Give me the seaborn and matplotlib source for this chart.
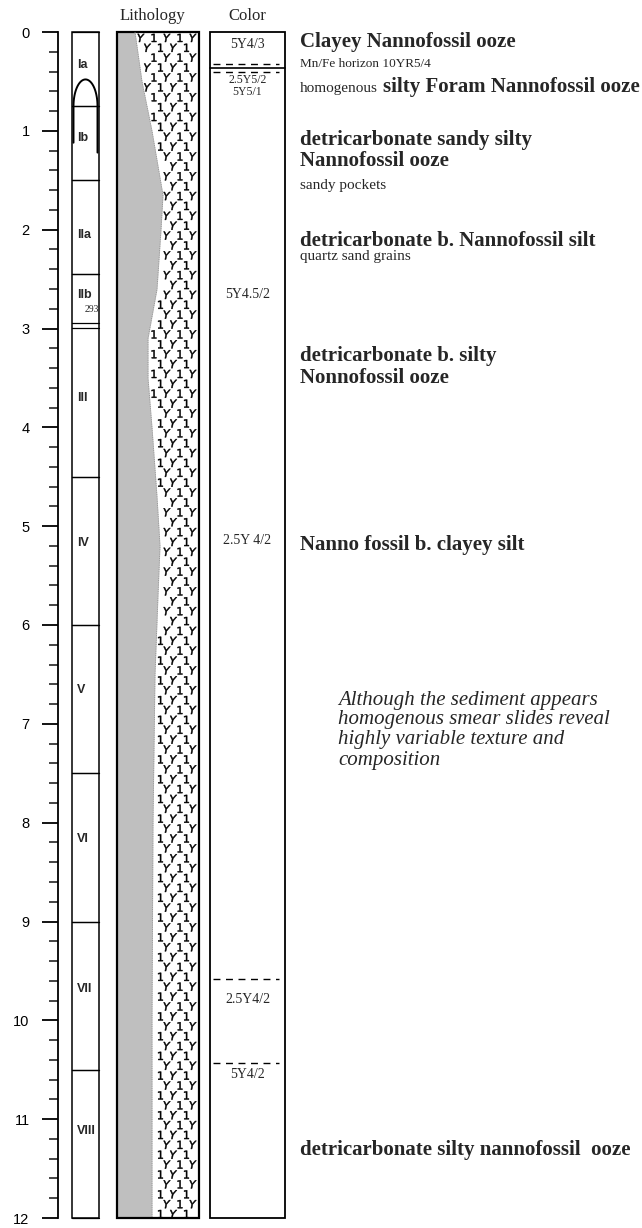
import matplotlib
matplotlib.use('Agg')
import matplotlib.pyplot as plt
import seaborn as sns
import numpy as np
import pandas as pd

section_names  = ['Ia', 'Ib', 'IIa', 'IIb', 'III', 'IV', 'V', 'VI', 'VII', 'VIII']
section_tops   = [0.0, 0.75, 1.5, 2.45, 2.99, 4.5, 6.0, 7.5, 9.0, 10.5]
section_bases  = [0.75, 1.5, 2.45, 2.94, 4.5, 6.0, 7.5, 9.0, 10.5, 12.0]
section_labely = [0.33, 1.07, 2.05, 2.66, 3.7, 5.17, 6.66, 8.17, 9.68, 11.12]

# grey (terrigenous) part of the lithology column: right edge vs depth
litho_depth    = [0.0, 0.5, 1.0, 1.65, 2.0, 2.6, 3.1, 3.5, 4.0, 4.7, 5.2, 5.7, 6.5, 8.0, 10.0, 12.0]
litho_boundary = [135, 142, 152, 163, 161, 157, 148, 148, 152, 157, 160, 158, 155, 153, 152, 152]

color_codes  = ['5Y4/3', '2.5Y5/2', '5Y5/1', '5Y4.5/2', '2.5Y 4/2', '2.5Y4/2', '5Y4/2']
color_depths = [0.13, 0.485, 0.605, 2.66, 5.15, 9.79, 10.55]
color_sizes  = [10, 8.5, 8.5, 10, 10, 10, 10]
color_dashed = [0.32, 0.40, 9.58, 10.43]
color_solid  = [0.365]

desc_depths = [0.10, 1.09, 1.31, 2.11, 3.28, 3.50, 5.19, 11.31]
desc_texts  = ['Clayey Nannofossil ooze',
               'detricarbonate sandy silty',
               'Nannofossil ooze',
               'detricarbonate b. Nannofossil silt',
               'detricarbonate b. silty',
               'Nonnofossil ooze',
               'Nanno fossil b. clayey silt',
               'detricarbonate silty nannofossil  ooze']
note_depths = [0.32, 1.55, 2.27]
note_texts  = ['Mn/Fe horizon 10YR5/4', 'sandy pockets', 'quartz sand grains']
note_sizes  = [9.5, 11, 11]
remark_lines = ['Although the sediment appears',
                'homogenous smear slides reveal',
                'highly variable texture and',
                'composition']
remark_depths = [6.76, 6.96, 7.16, 7.37]

# ---- layout (x in pixel-like units, y in metres) ----
W, H = 642, 1228
px_per_m = (1218 - 32) / 12.0
ytop = -32 / px_per_m
ybot = 12 + (H - 1218) / px_per_m
SEC_L, SEC_R = 72, 99
LIT_L, LIT_R = 117, 199
COL_L, COL_R = 210, 285
TX = 300

sns.set_theme(style='white')
plt.rcParams['font.family'] = ['Liberation Serif', 'DejaVu Serif']

fig = plt.figure(figsize=(W / 100, H / 100), dpi=100)
ax = fig.add_axes([58 / W, 0, 1 - 58 / W, 1])
ax.set_xlim(58, W)
ax.set_ylim(ybot, ytop)

for s in ['top', 'right', 'bottom']:
    ax.spines[s].set_visible(False)
ax.spines['left'].set_bounds(0, 12)
ax.spines['left'].set_linewidth(1.3)
ax.spines['left'].set_color('black')
ax.set_xticks([])
ax.set_yticks(np.arange(0, 13, 1))
ax.set_yticks(np.arange(0, 12.01, 0.2), minor=True)
ax.tick_params(axis='y', which='major', direction='out', length=11.5, width=1.3,
               left=True, labelsize=10.5, pad=9, colors='black')
ax.tick_params(axis='y', which='minor', direction='out', length=6.5, width=1.2, left=True)
for lab in ax.get_yticklabels():
    lab.set_family(['Liberation Sans', 'DejaVu Sans'])

# section column
ax.add_patch(plt.Rectangle((SEC_L, 0), SEC_R - SEC_L, 12, fill=False, lw=1.1, ec='black'))
for name, top, base, ly in zip(section_names, section_tops, section_bases, section_labely):
    ax.plot([SEC_L, SEC_R], [base, base], color='black', lw=0.9)
    ax.plot([SEC_L, SEC_R], [top, top], color='black', lw=0.9)
    ax.text(SEC_L + 5, ly, name, fontsize=9, fontweight='bold', va='center', ha='left',
            family=['Liberation Sans', 'DejaVu Sans'])
ax.text(SEC_L + 13, 2.81, '293', fontsize=7, va='center', ha='left')
# bioturbation arch in Ia/Ib
th = np.linspace(-np.pi / 2, np.pi / 2, 60)
arch_x = np.concatenate([[73.5], 85.5 + 12 * np.sin(th), [97.5]])
arch_y = np.concatenate([[1.12], 0.75 - 0.27 * np.cos(th), [1.22]])
ax.plot(arch_x, arch_y, color='black', lw=1.4)

# lithology column
ax.fill_betweenx(litho_depth, LIT_L, litho_boundary, color='#bfbfbf', lw=0)
lith = pd.DataFrame({'depth': litho_depth, 'edge': litho_boundary})
sns.lineplot(data=lith, x='edge', y='depth', orient='y', sort=False, ax=ax,
             color='#8c8c8c', lw=0.6, linestyle=':')
rows = np.arange(0.06, 11.97, 0.1)
px_list, py_list, mk_list = [], [], []
for i, d in enumerate(rows):
    edge = np.interp(d, litho_depth, litho_boundary)
    off = 0 if i % 2 == 0 else 6.5
    for j, xx in enumerate(np.arange(LIT_R - 6 - off, LIT_L, -13)):
        if xx > edge + 4:
            px_list.append(xx)
            py_list.append(d)
            mk_list.append('Y' if (i + j) % 2 == 0 else '1')
pat = pd.DataFrame({'x': px_list, 'y': py_list, 'm': mk_list})
sns.scatterplot(data=pat, x='x', y='y', style='m', markers={'Y': '$Y$', '1': '$\\mathsf{1}$'},
                s=34, color='black', edgecolor='black', linewidth=0.35, legend=False, ax=ax)
ax.add_patch(plt.Rectangle((LIT_L, 0), LIT_R - LIT_L, 12, fill=False, lw=1.6, ec='black'))
ax.set_xlabel('')
ax.set_ylabel('')

# colour column
ax.add_patch(plt.Rectangle((COL_L, 0), COL_R - COL_L, 12, fill=False, lw=1.3, ec='black'))
for d in color_dashed:
    ax.plot([COL_L + 3, COL_R - 6], [d, d], color='black', lw=1.0, dashes=(5, 4))
for d in color_solid:
    ax.plot([COL_L, COL_R], [d, d], color='black', lw=1.2)
for code, d, fs in zip(color_codes, color_depths, color_sizes):
    ax.text((COL_L + COL_R) / 2, d, code, fontsize=fs, ha='center', va='center')

# headers
ax.text(152, -0.16, 'Lithology', fontsize=12, ha='center', va='center')
ax.text(247, -0.16, 'Color', fontsize=12, ha='center', va='center')

# descriptions
for d, s in zip(desc_depths, desc_texts):
    ax.text(TX, d, s, fontsize=15, fontweight='bold', ha='left', va='center')
for d, s, fs in zip(note_depths, note_texts, note_sizes):
    ax.text(TX, d, s, fontsize=fs, ha='left', va='center')
ax.text(TX, 0.57, 'homogenous', fontsize=11, ha='left', va='center')
ax.text(383, 0.56, 'silty Foram Nannofossil ooze', fontsize=15, fontweight='bold',
        ha='left', va='center')
for d, s in zip(remark_depths, remark_lines):
    ax.text(338, d, s, fontsize=15, style='italic', ha='left', va='center')

fig.savefig('out.png', dpi=100)
